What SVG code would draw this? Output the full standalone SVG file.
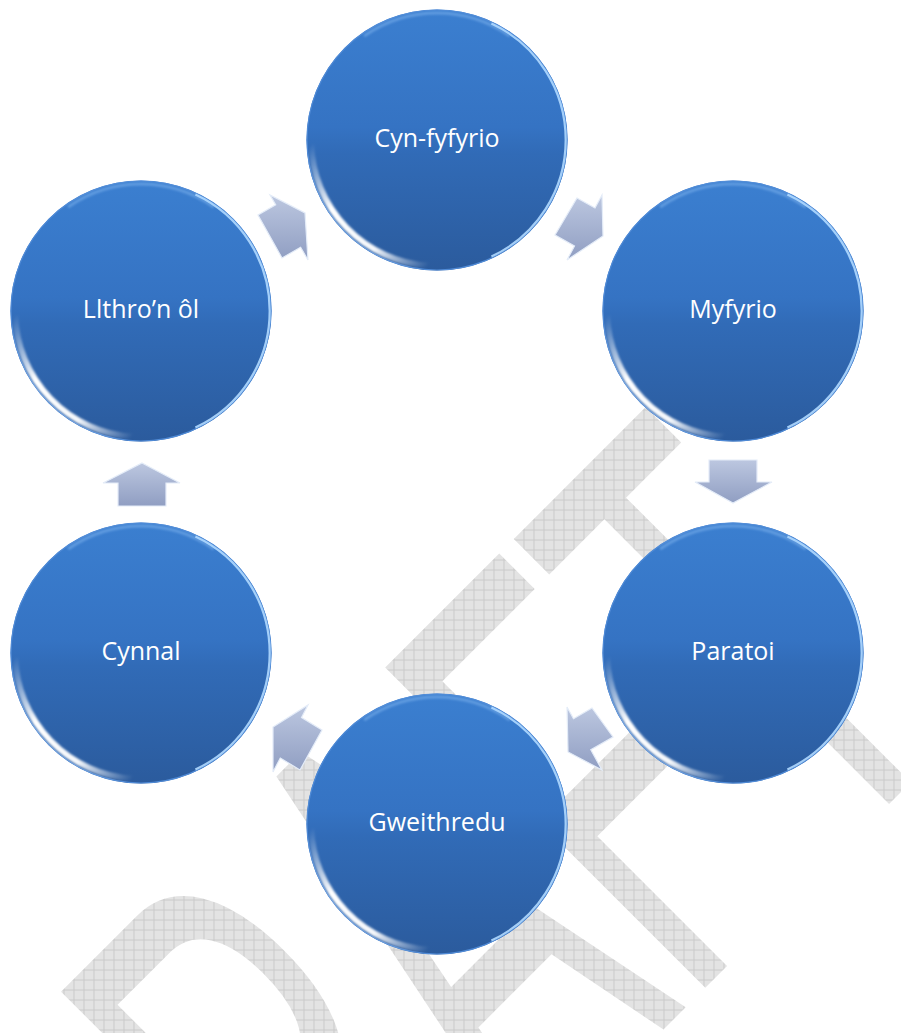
<svg xmlns="http://www.w3.org/2000/svg" width="901" height="1033" viewBox="0 0 901 1033">
<style>
.lbl{font-family:"Open Sans","Liberation Sans",sans-serif;font-size:25px;fill:#ffffff;text-anchor:middle}
.arr{fill:url(#gArr);stroke:#e4ecf8;stroke-width:1.2;stroke-linejoin:miter}
.wm{font-family:"Liberation Sans",Arial,sans-serif;font-size:658px;font-kerning:none;fill:url(#pGrid)}
</style>
<defs>
<pattern id="pGrid" width="10" height="10" patternUnits="userSpaceOnUse" patternTransform="scale(1.994,1) rotate(45)">
<rect width="10" height="10" fill="#e3e3e3"/>
<path d="M0 0.5H10M0.5 0V10" stroke="#cacaca" stroke-width="1" fill="none"/>
</pattern>
<linearGradient id="gBall" x1="0" y1="0" x2="0" y2="1">
<stop offset="0" stop-color="#3b7fd0"/>
<stop offset="0.45" stop-color="#3573c3"/>
<stop offset="0.55" stop-color="#316bb7"/>
<stop offset="1" stop-color="#2b5b9d"/>
</linearGradient>
<linearGradient id="gHi" x1="0" y1="0" x2="1" y2="1">
<stop offset="0" stop-color="#ffffff" stop-opacity="0"/>
<stop offset="0.35" stop-color="#ffffff" stop-opacity="1"/>
<stop offset="0.7" stop-color="#ffffff" stop-opacity="0.95"/>
<stop offset="1" stop-color="#ffffff" stop-opacity="0"/>
</linearGradient>
<linearGradient id="gArr" x1="0" y1="0" x2="0" y2="1">
<stop offset="0" stop-color="#bcc7e0"/>
<stop offset="1" stop-color="#909ec2"/>
</linearGradient>
<filter id="soft" x="-20%" y="-20%" width="140%" height="140%">
<feGaussianBlur stdDeviation="1.1"/>
</filter>
<g id="ball">
<circle r="130.5" fill="url(#gBall)"/>
<circle r="130" fill="none" stroke="#4f8ad6" stroke-width="1.2"/>
<path d="M -72.9 -104 A 127 127 0 0 1 72.9 -104" fill="none" stroke="#7fb4ee" stroke-width="3" stroke-opacity="0.55" filter="url(#soft)"/>
<path d="M 54.4 -116.5 A 128.5 128.5 0 0 1 54.4 116.5" fill="none" stroke="#b0d9ff" stroke-width="2.2" stroke-opacity="0.9"/>
<path d="M -125.9 4.4 A 126 126 0 0 0 -8.8 125.7" fill="none" stroke="url(#gHi)" stroke-width="6" filter="url(#soft)"/>
</g>
</defs>
<rect width="901" height="1033" fill="#ffffff"/>
<text class="wm" transform="translate(193.5,1499.5) rotate(-45) scale(0.5015,1)" x="0" y="0">DRAFT</text>
<g id="connectors">
<polygon class="arr" points="258,215 275.7,204.8 270,195 305,213 308,260 300.6,247.3 282,258"/>
<polygon class="arr" points="577,198 595,208 602,195 603,236 567,260 574.5,246 555,235"/>
<polygon class="arr" points="709,460 757,460 757,482 772,482 733,503 695,482 709,482"/>
<polygon class="arr" points="592,708 573.5,718.7 567,707 568,752 602,770 590.8,749.8 613,737"/>
<polygon class="arr" points="322,730 301.5,717.5 308,705 273,727 273,772 280.3,758 300,770"/>
<polygon class="arr" points="142,463 180,483 166,483 166,506 118,506 118,483 103,483"/>
</g>
<g id="node-cyn-fyfyrio" transform="translate(437,140)"><use href="#ball"/><text class="lbl" x="0" y="7">Cyn-fyfyrio</text></g>
<g id="node-myfyrio" transform="translate(733,311)"><use href="#ball"/><text class="lbl" x="0" y="7">Myfyrio</text></g>
<g id="node-paratoi" transform="translate(733,653)"><use href="#ball"/><text class="lbl" x="0" y="7">Paratoi</text></g>
<g id="node-gweithredu" transform="translate(437,824)"><use href="#ball"/><text class="lbl" x="0" y="7">Gweithredu</text></g>
<g id="node-cynnal" transform="translate(141,653)"><use href="#ball"/><text class="lbl" x="0" y="7">Cynnal</text></g>
<g id="node-llithro" transform="translate(141,311)"><use href="#ball"/><text class="lbl" x="0" y="7">Llthro’n ôl</text></g>
</svg>
